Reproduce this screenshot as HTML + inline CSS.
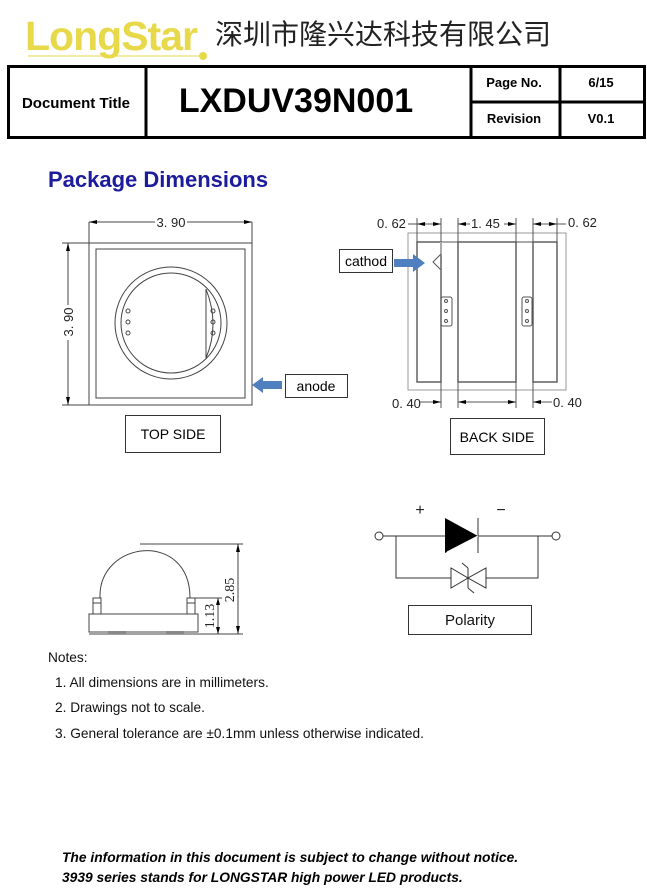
<!DOCTYPE html>
<html><head><meta charset="utf-8"><style>
body{margin:0;background:#fff;width:647px;height:894px;overflow:hidden;font-family:"Liberation Sans",Arial,sans-serif}
svg{position:absolute;left:0;top:0}
</style></head><body>
<svg width="647" height="894" viewBox="0 0 647 894" xmlns="http://www.w3.org/2000/svg" font-family="Liberation Sans, Arial, sans-serif">
<!-- logo -->
<text x="25" y="50" font-size="41" font-weight="bold" fill="#e8d94a" letter-spacing="-1">Long<tspan>S</tspan>tar</text>
<line x1="28" y1="56" x2="200" y2="56" stroke="#e8d94a" stroke-width="1"/>
<circle cx="203" cy="56" r="4" fill="#e8d94a"/>
<text x="215" y="44" font-size="28" fill="#222" font-family="Liberation Sans, Noto Sans CJK SC, sans-serif">深圳市隆兴达科技有限公司</text>
<!-- table -->
<g fill="none" stroke="#000">
<rect x="8.5" y="66.5" width="636" height="71" stroke-width="3"/>
<line x1="146" y1="66" x2="146" y2="138" stroke-width="3"/>
<line x1="471" y1="66" x2="471" y2="138" stroke-width="3"/>
<line x1="560" y1="66" x2="560" y2="138" stroke-width="3"/>
<line x1="471" y1="102" x2="645" y2="102" stroke-width="3"/>
</g>
<text x="76" y="108" font-size="15" font-weight="bold" text-anchor="middle">Document Title</text>
<text x="296" y="112" font-size="34" font-weight="bold" text-anchor="middle">LXDUV39N001</text>
<text x="514" y="87" font-size="13" font-weight="bold" text-anchor="middle">Page No.</text>
<text x="601" y="87" font-size="13" font-weight="bold" text-anchor="middle">6/15</text>
<text x="514" y="123" font-size="13" font-weight="bold" text-anchor="middle">Revision</text>
<text x="601" y="123" font-size="13" font-weight="bold" text-anchor="middle">V0.1</text>
<text x="48" y="187" font-size="22" font-weight="bold" fill="#1c1c9c">Package Dimensions</text>

<!-- top view -->
<g fill="none" stroke="#444" stroke-width="1">
<rect x="89" y="243" width="163" height="162"/>
<rect x="96" y="249" width="149" height="149"/>
<circle cx="171" cy="323" r="56"/>
<circle cx="171" cy="323" r="50"/>
<path d="M206 289 L206 358 Q220 325 206 289Z"/>
<line x1="89" y1="222" x2="89" y2="243"/><line x1="252" y1="222" x2="252" y2="243"/>
<line x1="89" y1="222" x2="155" y2="222"/><line x1="187" y1="222" x2="252" y2="222"/>
<line x1="62" y1="243" x2="89" y2="243"/><line x1="62" y1="405" x2="89" y2="405"/>
<line x1="68" y1="243" x2="68" y2="305"/><line x1="68" y1="340" x2="68" y2="405"/>
<circle cx="128" cy="311" r="2"/><circle cx="128" cy="322" r="2"/><circle cx="128" cy="333" r="2"/>
<circle cx="213" cy="311" r="2"/><circle cx="213" cy="322" r="2"/><circle cx="213" cy="333" r="2"/>
</g>
<g fill="#000">
<path d="M89 222 l8 -2 v4z"/><path d="M252 222 l-8 -2 v4z"/>
<path d="M68 243 l-2 8 h4z"/><path d="M68 405 l-2 -8 h4z"/>
</g>
<text x="171" y="227" font-size="13" text-anchor="middle" fill="#222">3. 90</text>
<text x="0" y="0" font-size="13" text-anchor="middle" fill="#222" transform="translate(73,322) rotate(-90)">3. 90</text>
<path d="M252 385 l11 -8 v4 h19 v8 h-19 v4z" fill="#4f7fbf"/>
<rect x="285.5" y="374.5" width="62" height="23" fill="none" stroke="#333"/>
<text x="316" y="391" font-size="14" text-anchor="middle">anode</text>
<rect x="125.5" y="415.5" width="95" height="37" fill="none" stroke="#333"/>
<text x="173" y="439" font-size="14" text-anchor="middle">TOP SIDE</text>

<!-- back view -->
<g fill="none" stroke="#555" stroke-width="1">
<rect x="408" y="233" width="158" height="157" stroke="#999"/>
<rect x="417" y="242" width="24" height="140" stroke-width="1.4"/>
<rect x="458" y="242" width="58" height="140" stroke-width="1.4"/>
<rect x="533" y="242" width="24" height="140" stroke-width="1.4"/>
<line x1="441" y1="242" x2="458" y2="242"/><line x1="516" y1="242" x2="533" y2="242"/>
<path d="M441 242 V254 L433 262 L441 270" stroke="#fff" stroke-width="2"/>
<path d="M441 242 V254 L433 262 L441 270"/>
<rect x="441" y="297" width="11" height="29" rx="2"/>
<rect x="522" y="297" width="10" height="29" rx="2"/>
<circle cx="446" cy="301" r="1.5"/><circle cx="446" cy="311" r="1.5"/><circle cx="446" cy="321" r="1.5"/>
<circle cx="527" cy="301" r="1.5"/><circle cx="527" cy="311" r="1.5"/><circle cx="527" cy="321" r="1.5"/>
<line x1="417" y1="218" x2="417" y2="242"/><line x1="441" y1="218" x2="441" y2="408"/>
<line x1="458" y1="218" x2="458" y2="408"/><line x1="516" y1="218" x2="516" y2="408"/>
<line x1="533" y1="218" x2="533" y2="408"/><line x1="557" y1="218" x2="557" y2="242"/>
<line x1="408" y1="224" x2="441" y2="224"/><line x1="458" y1="224" x2="470" y2="224"/><line x1="504" y1="224" x2="516" y2="224"/>
<line x1="533" y1="224" x2="566" y2="224"/>
<line x1="420" y1="402" x2="441" y2="402"/><line x1="458" y1="402" x2="516" y2="402"/><line x1="533" y1="402" x2="552" y2="402"/>
</g>
<g fill="#000">
<path d="M417 224 l8 -2 v4z"/><path d="M441 224 l-8 -2 v4z"/>
<path d="M458 224 l8 -2 v4z"/><path d="M516 224 l-8 -2 v4z"/>
<path d="M533 224 l8 -2 v4z"/><path d="M557 224 l-8 -2 v4z"/>
<path d="M441 402 l-8 -2 v4z"/><path d="M458 402 l8 -2 v4z"/><path d="M516 402 l-8 -2 v4z"/><path d="M533 402 l8 -2 v4z"/>
</g>
<text x="377" y="228" font-size="13" fill="#222">0. 62</text>
<text x="471" y="228" font-size="13" fill="#222">1. 45</text>
<text x="568" y="227" font-size="13" fill="#222">0. 62</text>
<text x="392" y="408" font-size="13" fill="#222">0. 40</text>
<text x="553" y="407" font-size="13" fill="#222">0. 40</text>
<rect x="339.5" y="249.5" width="53" height="23" fill="none" stroke="#333"/>
<text x="366" y="266" font-size="14" text-anchor="middle">cathod</text>
<path d="M394 259 h19 v-5 l12 9 l-12 9 v-5 h-19z" fill="#4f7fbf"/>
<rect x="450.5" y="418.5" width="94" height="36" fill="none" stroke="#333"/>
<text x="497" y="442" font-size="14" text-anchor="middle">BACK SIDE</text>

<!-- side view -->
<g fill="none" stroke="#444" stroke-width="1">
<path d="M100 598 C98 540 190 530 190 598"/>
<rect x="89" y="614" width="109" height="18"/>
<rect x="93" y="598" width="8" height="16"/><rect x="187" y="598" width="8" height="16"/>
<line x1="93" y1="603" x2="101" y2="603"/><line x1="187" y1="603" x2="195" y2="603"/>
<line x1="140" y1="544" x2="243" y2="544"/>
<line x1="195" y1="598" x2="222" y2="598"/>
<line x1="89" y1="634" x2="243" y2="634"/>
<line x1="238" y1="544" x2="238" y2="634"/>
<line x1="218" y1="598" x2="218" y2="634"/>
</g>
<rect x="108" y="631" width="18" height="3" fill="#888"/><rect x="166" y="631" width="18" height="3" fill="#888"/>
<g fill="#000"><path d="M238 544 l-2 8 h4z"/><path d="M238 634 l-2 -8 h4z"/><path d="M218 598 l-2 7 h4z"/><path d="M218 634 l-2 -7 h4z"/></g>
<text font-size="14" font-family="Liberation Serif, serif" text-anchor="middle" fill="#222" transform="translate(234,590) rotate(-90)">2.85</text>
<text font-size="14" font-family="Liberation Serif, serif" text-anchor="middle" fill="#222" transform="translate(214,616) rotate(-90)">1.13</text>

<!-- polarity -->
<g fill="none" stroke="#333" stroke-width="1">
<circle cx="379" cy="536" r="4"/><circle cx="556" cy="536" r="4"/>
<line x1="383" y1="536" x2="552" y2="536"/>
<polyline points="396,536 396,578 451,578"/><polyline points="486,578 538,578 538,536"/>
<line x1="478" y1="518" x2="478" y2="553"/>
<path d="M451 568 L451 588 L468 578Z M486 568 L486 588 L468 578Z"/>
<path d="M468 568 L468 588 M462 563 L468 568 M468 588 L474 593"/>
<rect x="408.5" y="605.5" width="123" height="29"/>
</g>
<path d="M445 518 L478 536 L445 553Z" fill="#000"/>
<line x1="447" y1="552" x2="478" y2="536" stroke="#fff" stroke-width="1"/>
<text x="420" y="515" font-size="16" text-anchor="middle" fill="#222">+</text>
<text x="501" y="515" font-size="16" text-anchor="middle" fill="#222">−</text>
<text x="470" y="625" font-size="15" text-anchor="middle" fill="#111">Polarity</text>

<!-- notes -->
<g font-size="13.7" fill="#111">
<text x="48" y="662">Notes:</text>
<text x="55" y="687">1. All dimensions are in millimeters.</text>
<text x="55" y="712">2. Drawings not to scale.</text>
<text x="55" y="738">3. General tolerance are ±0.1mm unless otherwise indicated.</text>
</g>
<g font-size="13.8" font-weight="bold" font-style="italic" fill="#000">
<text x="62" y="862">The information in this document is subject to change without notice.</text>
<text x="62" y="882">3939 series stands for LONGSTAR high power LED products.</text>
</g>
</svg>
</body></html>
